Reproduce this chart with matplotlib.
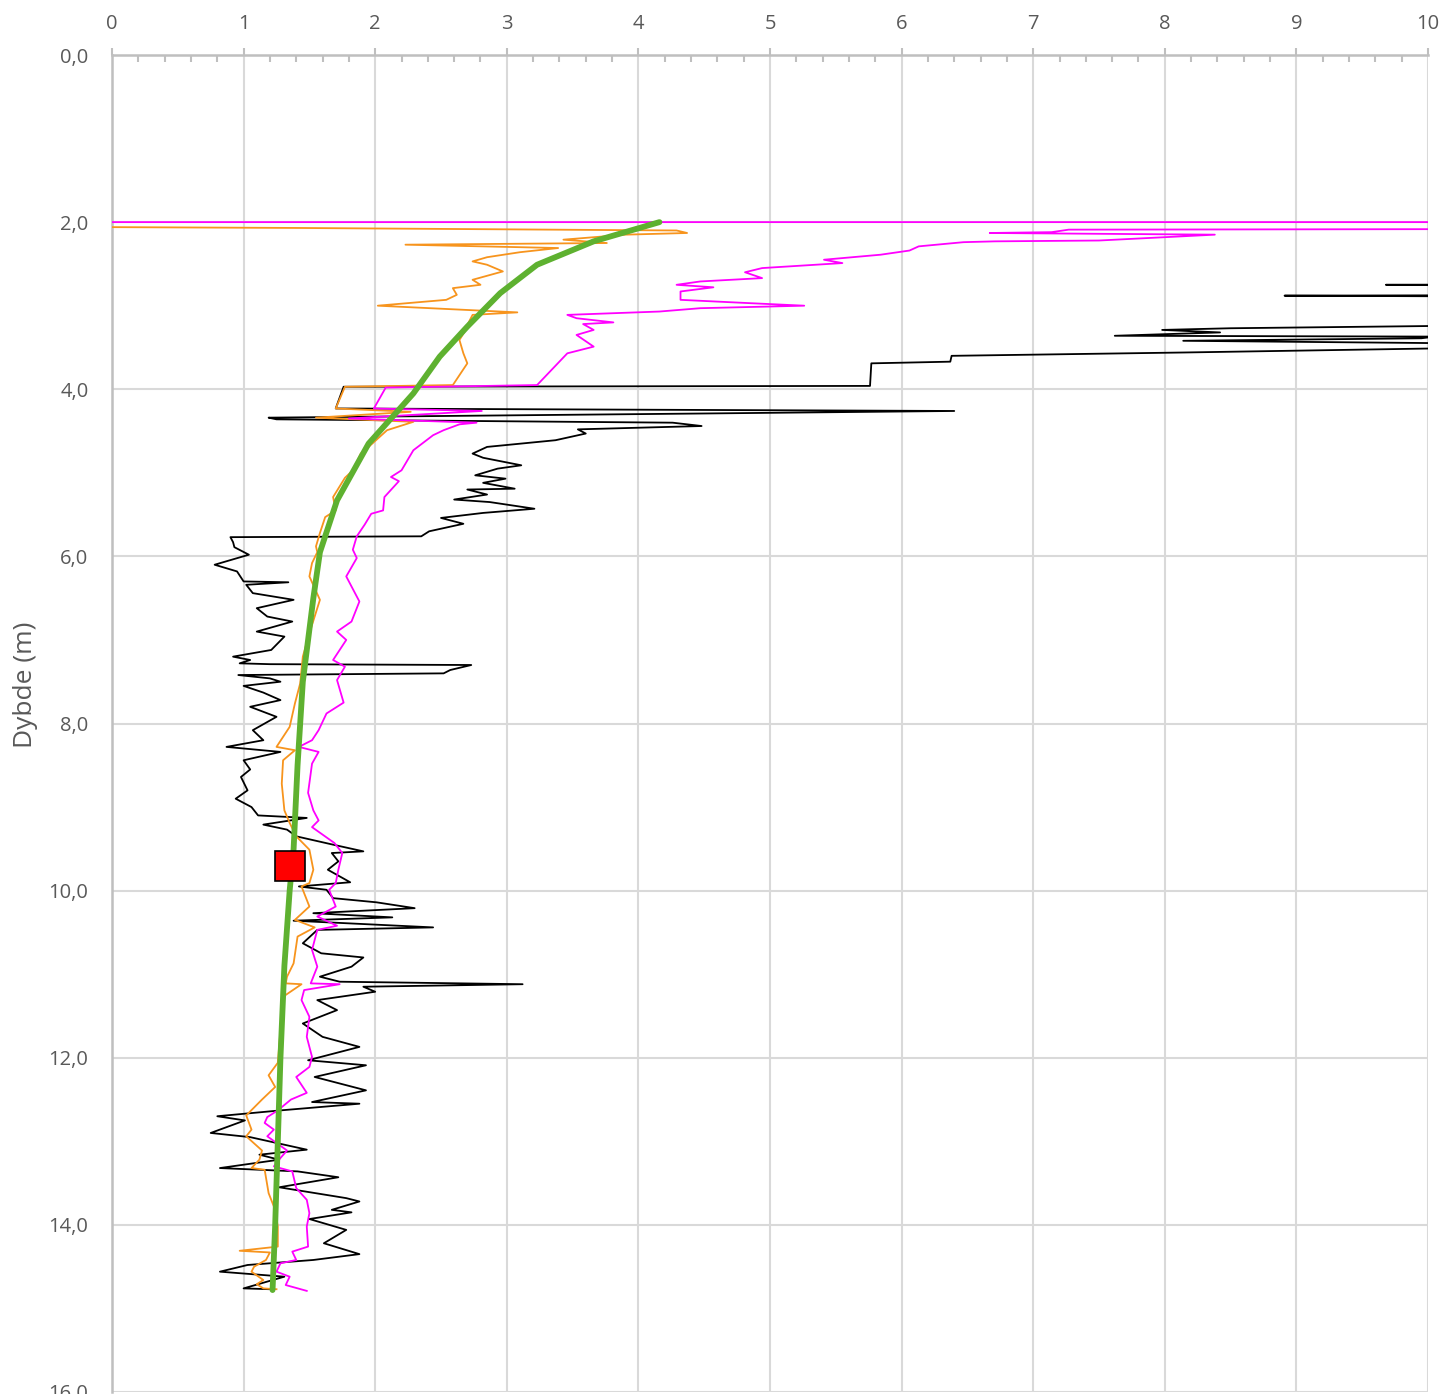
import numpy as np
import matplotlib
matplotlib.use("Agg")
import matplotlib.pyplot as plt
from matplotlib.ticker import MultipleLocator, FuncFormatter

plt.rcParams['font.family'] = ['Open Sans', 'DejaVu Sans']

# sounding traces: value (x) against depth (m); values past 10 run off the chart
black_x = [12, 9.68, 12, 12, 8.91, 10.5, 12, 12, 10.2, 8.5, 7.98, 8.42, 7.62, 10.05, 9.95, 8.14, 10.2, 12,
           10.5, 8.15, 6.38, 6.37, 5.77, 5.76, 1.76, 1.70, 6.40, 4.5, 1.19, 1.25, 4.26, 4.48, 3.54, 3.60,
           3.37, 2.85, 2.74, 2.82, 3.11, 2.93, 2.76, 2.99, 2.82, 3.06, 2.70, 2.85, 2.60, 2.87, 3.21, 2.82,
           2.50, 2.67, 2.41, 2.35, 0.90, 0.92, 0.93, 1.04, 0.78, 0.95, 1.00, 1.34, 1.02, 1.07, 1.38, 1.10,
           1.18, 1.37, 1.10, 1.31, 1.21, 0.92, 1.05, 0.97, 1.2, 2.73, 2.57, 2.52, 0.96, 1.20, 1.28, 1.00,
           1.15, 1.28, 1.05, 1.25, 1.07, 1.15, 0.87, 1.28, 1.00, 1.05, 0.98, 1.03, 0.94, 1.06, 1.11, 1.48,
           1.15, 1.33, 1.40, 1.68, 1.91, 1.67, 1.72, 1.64, 1.81, 1.42, 1.63, 1.68, 2.01, 2.30, 1.53, 2.13,
           1.38, 2.44, 1.56, 1.45, 1.59, 1.91, 1.82, 1.58, 1.73, 3.12, 1.91, 2.00, 1.56, 1.71, 1.45, 1.60,
           1.88, 1.49, 1.93, 1.54, 1.93, 1.52, 1.88, 1.28, 0.80, 1.01, 0.75, 1.05, 1.48, 1.12, 1.27, 0.82,
           1.41, 1.72, 1.27, 1.78, 1.88, 1.67, 1.82, 1.50, 1.78, 1.61, 1.88, 1.53, 1.03, 0.82, 1.31, 1.00,
           1.20]
black_d = [2.74, 2.75, 2.76, 2.87, 2.88, 2.89, 2.90, 3.22, 3.24, 3.27, 3.29, 3.32, 3.36, 3.37, 3.39, 3.42,
           3.45, 3.47, 3.50, 3.56, 3.60, 3.67, 3.69, 3.96, 3.97, 4.23, 4.26, 4.29, 4.34, 4.36, 4.40, 4.44,
           4.48, 4.53, 4.61, 4.69, 4.77, 4.82, 4.91, 4.95, 5.03, 5.07, 5.12, 5.19, 5.20, 5.26, 5.32, 5.35,
           5.43, 5.48, 5.54, 5.61, 5.70, 5.76, 5.77, 5.83, 5.89, 5.98, 6.10, 6.18, 6.30, 6.31, 6.34, 6.44,
           6.52, 6.62, 6.72, 6.78, 6.90, 6.96, 7.12, 7.20, 7.24, 7.28, 7.29, 7.30, 7.36, 7.40, 7.42, 7.46,
           7.50, 7.55, 7.63, 7.72, 7.80, 7.92, 8.08, 8.20, 8.28, 8.34, 8.44, 8.55, 8.64, 8.80, 8.90, 9.00,
           9.10, 9.13, 9.21, 9.27, 9.35, 9.45, 9.53, 9.55, 9.65, 9.75, 9.90, 9.95, 9.99, 10.09, 10.14, 10.21,
           10.27, 10.32, 10.36, 10.44, 10.47, 10.63, 10.75, 10.80, 10.91, 11.03, 11.09, 11.12, 11.15, 11.21,
           11.31, 11.43, 11.59, 11.75, 11.87, 12.03, 12.09, 12.23, 12.39, 12.53, 12.55, 12.63, 12.70, 12.75,
           12.90, 12.95, 13.10, 13.16, 13.22, 13.32, 13.36, 13.43, 13.55, 13.68, 13.72, 13.82, 13.85, 13.93,
           14.06, 14.22, 14.35, 14.42, 14.48, 14.56, 14.62, 14.76, 14.77]

orange_x = [0, 1.43, 4.29, 4.37, 3.9, 3.43, 3.76, 2.23, 3.39, 3.1, 2.85, 2.74, 2.85, 2.97, 2.74, 2.80, 2.59,
            2.62, 2.54, 2.02, 3.08, 2.74, 2.70, 2.68, 2.64, 2.67, 2.70, 2.59, 1.77, 1.70, 2.27, 1.55, 2.29,
            2.09, 1.95, 1.89, 1.83, 1.77, 1.68, 1.70, 1.62, 1.58, 1.55, 1.56, 1.52, 1.50, 1.58, 1.54, 1.50,
            1.45, 1.43, 1.39, 1.35, 1.25, 1.39, 1.30, 1.29, 1.31, 1.35, 1.40, 1.50, 1.53, 1.50, 1.44, 1.47,
            1.50, 1.39, 1.54, 1.41, 1.38, 1.33, 1.32, 1.44, 1.30, 1.28, 1.26, 1.19, 1.24, 1.14, 1.02, 1.06,
            1.02, 1.14, 1.12, 1.06, 1.16, 1.19, 1.24, 1.26, 1.26, 0.97, 1.20, 1.17, 1.08, 1.06, 1.15, 1.10,
            1.15, 1.25]
orange_d = [2.06, 2.07, 2.10, 2.13, 2.15, 2.21, 2.25, 2.27, 2.31, 2.36, 2.42, 2.47, 2.51, 2.59, 2.69, 2.75,
            2.79, 2.87, 2.93, 3.00, 3.08, 3.11, 3.23, 3.31, 3.41, 3.57, 3.69, 3.95, 3.97, 4.23, 4.27, 4.34,
            4.39, 4.49, 4.69, 4.77, 4.97, 5.06, 5.29, 5.45, 5.53, 5.72, 5.88, 5.95, 6.08, 6.24, 6.52, 6.72,
            6.92, 7.20, 7.52, 7.76, 8.04, 8.28, 8.32, 8.44, 8.72, 9.04, 9.19, 9.35, 9.51, 9.75, 9.91, 9.95,
            10.07, 10.19, 10.35, 10.44, 10.55, 10.87, 11.03, 11.11, 11.12, 11.27, 11.67, 12.06, 12.21, 12.35,
            12.50, 12.69, 12.86, 12.94, 13.11, 13.22, 13.32, 13.34, 13.62, 13.82, 14.02, 14.26, 14.31, 14.33,
            14.42, 14.50, 14.56, 14.66, 14.71, 14.76, 14.77]

magenta_x = [0, 12, 12, 7.27, 7.14, 6.67, 8.38, 7.5, 6.71, 6.47, 6.13, 6.06, 5.84, 5.41, 5.55, 4.94, 4.81,
             4.94, 4.47, 4.29, 4.57, 4.32, 4.32, 4.85, 5.26, 4.47, 4.16, 3.46, 3.53, 3.81, 3.58, 3.66, 3.53,
             3.66, 3.46, 3.23, 2.08, 1.99, 2.81, 1.80, 2.77, 2.64, 2.52, 2.44, 2.29, 2.20, 2.12, 2.18, 2.07,
             2.06, 1.97, 1.92, 1.86, 1.83, 1.86, 1.78, 1.88, 1.82, 1.71, 1.78, 1.68, 1.77, 1.71, 1.76, 1.63,
             1.57, 1.52, 1.42, 1.57, 1.52, 1.49, 1.53, 1.57, 1.52, 1.69, 1.75, 1.72, 1.70, 1.65, 1.70, 1.56,
             1.71, 1.56, 1.52, 1.56, 1.51, 1.73, 1.46, 1.44, 1.50, 1.48, 1.52, 1.50, 1.40, 1.48, 1.36, 1.26,
             1.18, 1.16, 1.23, 1.18, 1.33, 1.28, 1.23, 1.37, 1.40, 1.48, 1.50, 1.48, 1.49, 1.37, 1.40, 1.28,
             1.25, 1.35, 1.32, 1.48]
magenta_d = [2.0, 2.0, 2.08, 2.09, 2.12, 2.13, 2.15, 2.22, 2.23, 2.24, 2.29, 2.34, 2.39, 2.45, 2.49, 2.55,
             2.60, 2.67, 2.71, 2.75, 2.78, 2.83, 2.93, 2.97, 3.00, 3.03, 3.07, 3.11, 3.15, 3.20, 3.22, 3.29,
             3.35, 3.49, 3.57, 3.95, 3.98, 4.23, 4.26, 4.35, 4.40, 4.42, 4.49, 4.55, 4.73, 4.97, 5.05, 5.10,
             5.29, 5.45, 5.49, 5.62, 5.76, 5.92, 6.02, 6.24, 6.54, 6.78, 6.90, 7.00, 7.24, 7.32, 7.48, 7.75,
             7.88, 8.08, 8.20, 8.28, 8.34, 8.48, 8.83, 9.04, 9.16, 9.24, 9.43, 9.55, 9.75, 9.91, 9.99, 10.19,
             10.31, 10.42, 10.47, 10.71, 10.91, 11.11, 11.12, 11.19, 11.31, 11.51, 11.75, 11.99, 12.11, 12.23,
             12.42, 12.50, 12.63, 12.71, 12.78, 12.86, 12.94, 13.11, 13.20, 13.30, 13.36, 13.56, 13.70, 13.86,
             14.02, 14.26, 14.32, 14.42, 14.46, 14.56, 14.62, 14.72, 14.79]

# smooth interpreted profile
green_x = [4.16, 3.66, 3.23, 2.95, 2.70, 2.49, 2.29, 1.95, 1.71, 1.58, 1.53, 1.45, 1.41, 1.38, 1.35,
           1.31, 1.28, 1.26, 1.24, 1.22]
green_d = [2.0, 2.23, 2.51, 2.85, 3.25, 3.61, 4.05, 4.65, 5.33, 5.95, 6.5, 7.5, 8.5, 9.5, 10.0,
           10.9, 12.0, 13.0, 14.0, 14.78]

# single lab point
point_x = [1.35]
point_d = [9.71]

fig = plt.figure(figsize=(14.45, 13.94), dpi=100)
ax = fig.add_axes([112 / 1445, 1 - 1392 / 1394, (1428 - 112) / 1445, (1392 - 55) / 1394])

ax.plot(black_x, black_d, color='black', lw=1.3, zorder=3)
ax.plot(orange_x, orange_d, color='#F7941D', lw=1.3, zorder=4)
ax.plot(magenta_x, magenta_d, color='#FF00FF', lw=1.3, zorder=5)
ax.plot(green_x, green_d, color='#5EB130', lw=4.2, solid_capstyle='round', zorder=6)
ax.plot(point_x, point_d, 's', ms=22, mfc='#FF0000', mec='black', mew=1.2, zorder=7)

ax.set_xlim(0, 10)
ax.set_ylim(16, 0)
ax.xaxis.tick_top()
ax.xaxis.set_major_locator(MultipleLocator(1))
ax.xaxis.set_minor_locator(MultipleLocator(0.2))
ax.yaxis.set_major_locator(MultipleLocator(2))
ax.yaxis.set_major_formatter(FuncFormatter(lambda v, p: f"{v:.1f}".replace('.', ',')))

ax.grid(True, which='major', color='#D9D9D9', lw=1.5, zorder=0)
ax.set_axisbelow(True)

for side in ['right', 'bottom']:
    ax.spines[side].set_visible(False)
for side in ['left', 'top']:
    ax.spines[side].set_color('#BFBFBF')
    ax.spines[side].set_linewidth(1.8)

ax.tick_params(axis='x', which='major', direction='out', length=5, width=1.5, color='#BFBFBF',
               labelsize=14.5, labelcolor='#595959', pad=10)
ax.tick_params(axis='x', which='minor', direction='in', length=5, width=1.5, color='#BFBFBF')
ax.tick_params(axis='y', which='major', length=0, labelsize=14.5, labelcolor='#595959', pad=17)

ax.set_ylabel('Dybde (m)', fontsize=19, color='#595959')
ax.yaxis.set_label_coords(-0.056, 0.529)

fig.savefig('out.png', dpi=100)
